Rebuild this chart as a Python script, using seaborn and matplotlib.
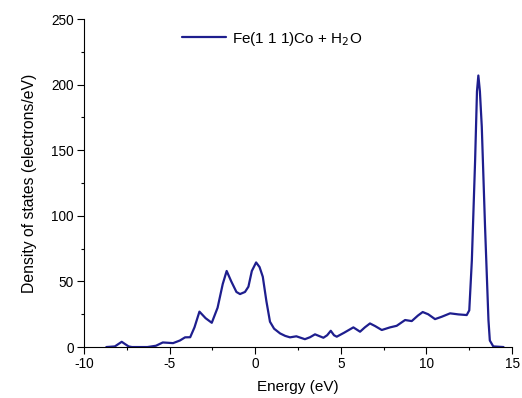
import matplotlib
matplotlib.use("Agg")
import matplotlib.pyplot as plt
import seaborn as sns
import pandas as pd
from matplotlib.ticker import MultipleLocator

energy = [-8.7, -8.2, -7.8, -7.4, -7.2, -6.3, -5.8, -5.4, -4.8, -4.4, -4.1, -3.8, -3.55, -3.26,
          -2.9, -2.54, -2.2, -1.9, -1.67, -1.4, -1.1, -0.89, -0.6, -0.4, -0.2, 0.05, 0.25, 0.44,
          0.65, 0.86, 1.1, 1.45, 1.75, 2.03, 2.4, 2.9, 3.2, 3.49, 3.98, 4.2, 4.41, 4.6, 4.76,
          5.2, 5.73, 6.12, 6.4, 6.7, 7.0, 7.39, 7.87, 8.26, 8.75, 9.14, 9.5, 9.78, 10.1, 10.5,
          10.89, 11.38, 11.86, 12.35, 12.5, 12.65, 12.84, 12.95, 13.03, 13.12, 13.23, 13.42,
          13.62, 13.7, 13.9, 14.5]
dos = [0, 0.5, 4, 0.5, 0, 0, 1, 3.5, 3, 5, 7.4, 7.5, 15, 27,
       22, 18.5, 30, 48, 58, 50, 42, 40.4, 42, 46, 58, 64.5, 61, 53.6,
       35, 19.3, 14, 10.4, 8.5, 7.4, 8.2, 6, 7.5, 9.7, 7.1, 9, 12.4, 9, 7.9,
       11, 15, 11.7, 15, 18, 16, 13, 15, 16.2, 20.6, 19.8, 24, 26.7, 25, 21.3,
       23.1, 25.7, 24.9, 24.4, 28, 66, 142, 195, 207, 195, 168, 92,
       20.6, 5, 0.5, 0]
series_label = "Fe(1 1 1)Co + H$_2$O"

sns.set_style("ticks")
plt.rcParams['font.family'] = ['Liberation Sans', 'DejaVu Sans']
plt.rcParams['axes.unicode_minus'] = False
plt.rcParams['axes.edgecolor'] = 'black'
plt.rcParams['xtick.color'] = 'black'
plt.rcParams['ytick.color'] = 'black'
plt.rcParams['text.color'] = 'black'
plt.rcParams['axes.labelcolor'] = 'black'

df = pd.DataFrame({"Energy": energy, "DOS": dos, "series": series_label})

fig = plt.figure(figsize=(5.22, 3.98), dpi=100)
ax = fig.add_axes([0.161, 0.128, 0.820, 0.824])
sns.lineplot(data=df, x="Energy", y="DOS", hue="series", palette=["#1e1e8e"],
             linewidth=1.6, ax=ax, sort=False)

ax.set_xlim(-10, 15)
ax.set_ylim(0, 250)
ax.xaxis.set_major_locator(MultipleLocator(5))
ax.xaxis.set_minor_locator(MultipleLocator(2.5))
ax.yaxis.set_major_locator(MultipleLocator(50))
ax.yaxis.set_minor_locator(MultipleLocator(25))
ax.tick_params(which="major", length=5, width=0.8, labelsize=9.8, pad=2.5, direction="out")
ax.tick_params(which="minor", length=2.5, width=0.8, direction="out")
sns.despine(ax=ax)
ax.set_xlabel("Energy (eV)", fontsize=11, labelpad=6)
ax.set_ylabel("Density of states (electrons/eV)", fontsize=11.3, labelpad=10)

leg = ax.legend(loc="upper center", bbox_to_anchor=(0.44, 1.01), frameon=False,
                fontsize=11, handlelength=2.9, handletextpad=0.4, title=None)

fig.savefig("out.png", dpi=100)
